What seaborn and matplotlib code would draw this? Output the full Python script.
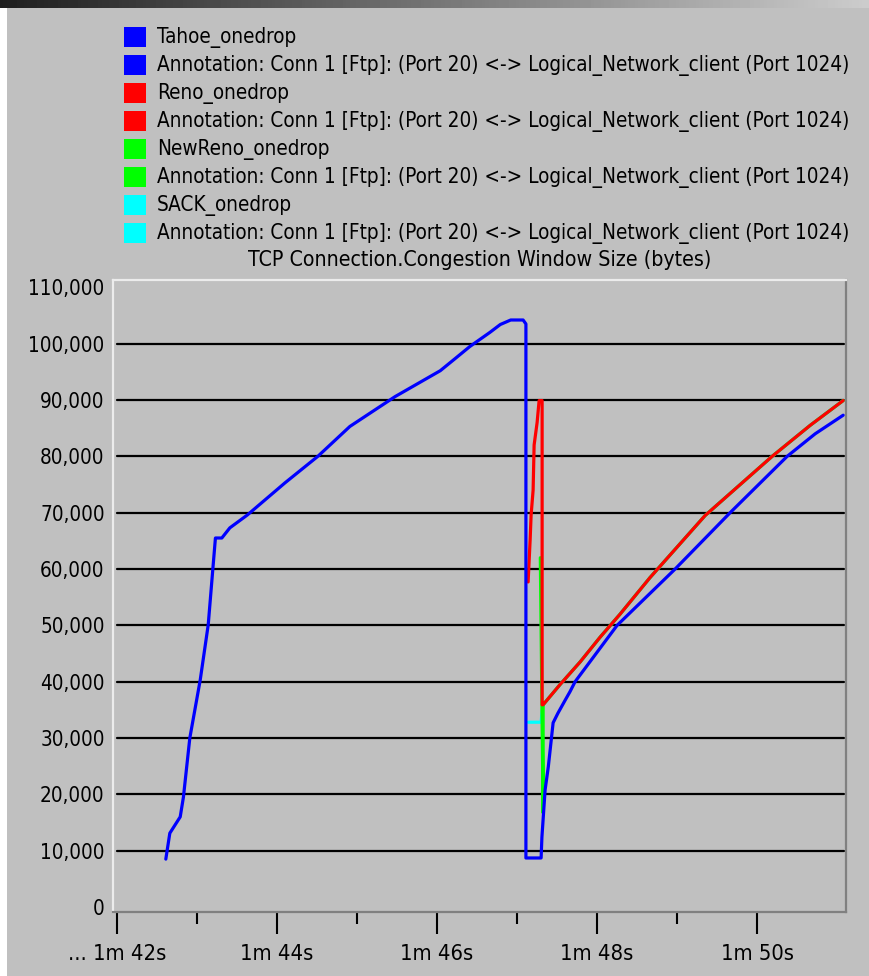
import numpy as np
import pandas as pd
import matplotlib
matplotlib.use("Agg")
import matplotlib.pyplot as plt
from matplotlib import font_manager
from matplotlib.patches import Rectangle
from matplotlib.ticker import FixedLocator, FuncFormatter
import seaborn as sns

# ---- data: congestion window (bytes) versus simulation time (seconds) ----
tahoe_t = [102.61, 102.66, 102.79, 102.83, 102.91, 103.04, 103.14, 103.20, 103.23,
           103.31, 103.41, 103.63, 104.10, 104.51, 104.91, 105.475, 106.04, 106.23,
           106.41, 106.54, 106.66, 106.79, 106.92, 107.075, 107.11, 107.11, 107.30,
           107.31, 107.35, 107.39, 107.41, 107.45, 107.51, 107.60, 107.66, 107.725,
           108.25, 108.975, 109.6625, 110.375, 110.725, 111.075]
tahoe_v = [8500, 13100, 16000, 19500, 30000, 40300, 50100, 60400, 65500,
           65500, 67300, 69600, 75300, 80000, 85300, 90600, 95200, 97400,
           99500, 100800, 102000, 103400, 104200, 104200, 103500, 8700, 8700,
           12400, 20800, 24900, 27500, 32700, 34400, 36700, 38200, 40000,
           50000, 60000, 70000, 80000, 84000, 87300]

# shared recovery curve after the loss (Reno / NewReno / SACK)
recovery_t = [107.325, 107.5375, 107.7875, 108.0375, 108.2875, 108.6625, 109.35,
              110.1875, 110.6625, 111.075]
recovery_v = [35900, 39500, 43500, 47900, 52000, 58500, 69500, 80000, 85500, 89900]

reno_t = [107.1375, 107.1625, 107.175, 107.20, 107.2125, 107.25, 107.275, 107.3125, 107.3125]
reno_v = [57700, 65100, 69600, 74000, 82000, 86000, 89900, 89900, 35900]

newreno_t = [107.29, 107.325]
newreno_v = [62000, 16700]

sack_t = [107.14, 107.30, 107.31]
sack_v = [32800, 32800, 34400]

series_names = ["Tahoe_onedrop", "Reno_onedrop", "NewReno_onedrop", "SACK_onedrop"]
series_colors = ["#0000ff", "#ff0000", "#00ff00", "#00ffff"]
annotation = "Annotation: Conn 1 [Ftp]: (Port 20) <-> Logical_Network_client (Port 1024)"
chart_title = "TCP Connection.Congestion Window Size (bytes)"

y_ticks = [0, 10000, 20000, 30000, 40000, 50000, 60000, 70000, 80000, 90000, 100000, 110000]
x_major = [102, 104, 106, 108, 110]
x_minor = [103, 105, 107, 109]
x_labels = ["... 1m 42s", "1m 44s", "1m 46s", "1m 48s", "1m 50s"]

# ---- long-form table ----
frames = [
    pd.DataFrame({"time": tahoe_t, "cwnd": tahoe_v, "series": series_names[0]}),
    pd.DataFrame({"time": reno_t + recovery_t, "cwnd": reno_v + recovery_v,
                  "series": series_names[1]}),
    pd.DataFrame({"time": newreno_t + recovery_t, "cwnd": newreno_v + recovery_v,
                  "series": series_names[2]}),
    pd.DataFrame({"time": sack_t + recovery_t, "cwnd": sack_v + recovery_v,
                  "series": series_names[3]}),
]
df = pd.concat(frames, ignore_index=True)

BG = "#c0c0c0"
sns.set_style("white")

# prefer a narrow face for the dialog-style lettering
font_family = ["Liberation Sans", "DejaVu Sans"]
font_stretch = "normal"
try:
    path = font_manager.findfont(font_manager.FontProperties(family="DejaVu Sans",
                                                             stretch="condensed"),
                                 fallback_to_default=False)
    if "ondensed" in path:
        font_family = ["DejaVu Sans", "Liberation Sans"]
        font_stretch = "condensed"
except Exception:
    pass
plt.rcParams["font.family"] = font_family
plt.rcParams["font.stretch"] = font_stretch
plt.rcParams["text.color"] = "black"

W, H = 869, 976
fig = plt.figure(figsize=(W / 100, H / 100), dpi=100, facecolor=BG)
renderer = fig.canvas.get_renderer()


def fit_size(text, target_px):
    """Font size at which `text` spans `target_px` pixels."""
    probe = fig.text(0, 0, text, fontsize=10)
    w = probe.get_window_extent(renderer).width
    probe.remove()
    return 10 * target_px / w


def fx(px):
    return px / W


def fy(py):
    return 1 - py / H


legend_size = fit_size(annotation, 696)
title_size = fit_size(chart_title, 464)
ytick_size = fit_size("110,000", 77)
xtick_size = fit_size("1m 44s", 73)

ax = fig.add_axes([fx(113), fy(912), fx(846) - fx(113), fy(280) - fy(912)])
ax.set_facecolor(BG)

palette = dict(zip(series_names, series_colors))
draw_order = ["SACK_onedrop", "NewReno_onedrop", "Reno_onedrop", "Tahoe_onedrop"]
sns.lineplot(data=df, x="time", y="cwnd", hue="series", hue_order=draw_order,
             palette=palette, units="series", estimator=None, sort=False,
             linewidth=2.3, legend=False, ax=ax)

# axis ranges
ax.set_xlim(101.95, 111.11)
ax.set_ylim(-890, 111300)

# horizontal grid lines
for yv in y_ticks[1:-1]:
    ax.axhline(yv, xmin=0.006, xmax=0.997, color="black", linewidth=1.6, zorder=1)

# y axis labels
ax.yaxis.set_major_locator(FixedLocator(y_ticks))
ax.yaxis.set_major_formatter(FuncFormatter(lambda v, p: f"{int(v):,}"))
ax.tick_params(axis="y", left=False, length=0, pad=6, labelsize=ytick_size,
               labelcolor="black")

# x axis ticks
ax.xaxis.set_major_locator(FixedLocator(x_major))
ax.xaxis.set_minor_locator(FixedLocator(x_minor))
ax.set_xticklabels(x_labels)
ax.tick_params(axis="x", which="major", bottom=True, length=16, width=1.5,
               color="black", direction="out", pad=7, labelsize=xtick_size,
               labelcolor="black")
ax.tick_params(axis="x", which="minor", bottom=True, length=8.5, width=1.5,
               color="black", direction="out")
ax.set_xlabel("")
ax.set_ylabel("")

# sunken box edges
ax.spines["left"].set_color("#ececec")
ax.spines["top"].set_color("#ececec")
ax.spines["right"].set_color("#808080")
ax.spines["bottom"].set_color("#808080")
for s in ax.spines.values():
    s.set_linewidth(1.6)
    s.set_visible(True)

# title above the plot
fig.text(fx(480), fy(260), chart_title, ha="center", va="center", fontsize=title_size)

# legend: each run has its name and its annotation line
row = 0
for name, color in zip(series_names, series_colors):
    for label in (name, annotation):
        cy = 37 + 28 * row
        fig.patches.append(Rectangle((fx(124), fy(cy + 10)), fx(22), 20 / H,
                                     transform=fig.transFigure, facecolor=color,
                                     edgecolor="none"))
        fig.text(fx(157), fy(cy), label, ha="left", va="center", fontsize=legend_size)
        row += 1

# window frame: title strip and left border
grad_ax = fig.add_axes([0, fy(8), 1, 8 / H])
grad = np.linspace(0.12, 0.80, 256)[None, :]
grad_ax.imshow(grad, aspect="auto", cmap="gray", vmin=0, vmax=1)
grad_ax.set_axis_off()
fig.patches.append(Rectangle((0, 0), fx(7), fy(8), transform=fig.transFigure,
                             facecolor="white", edgecolor="none"))

fig.savefig("out.png", dpi=100, facecolor=BG)
